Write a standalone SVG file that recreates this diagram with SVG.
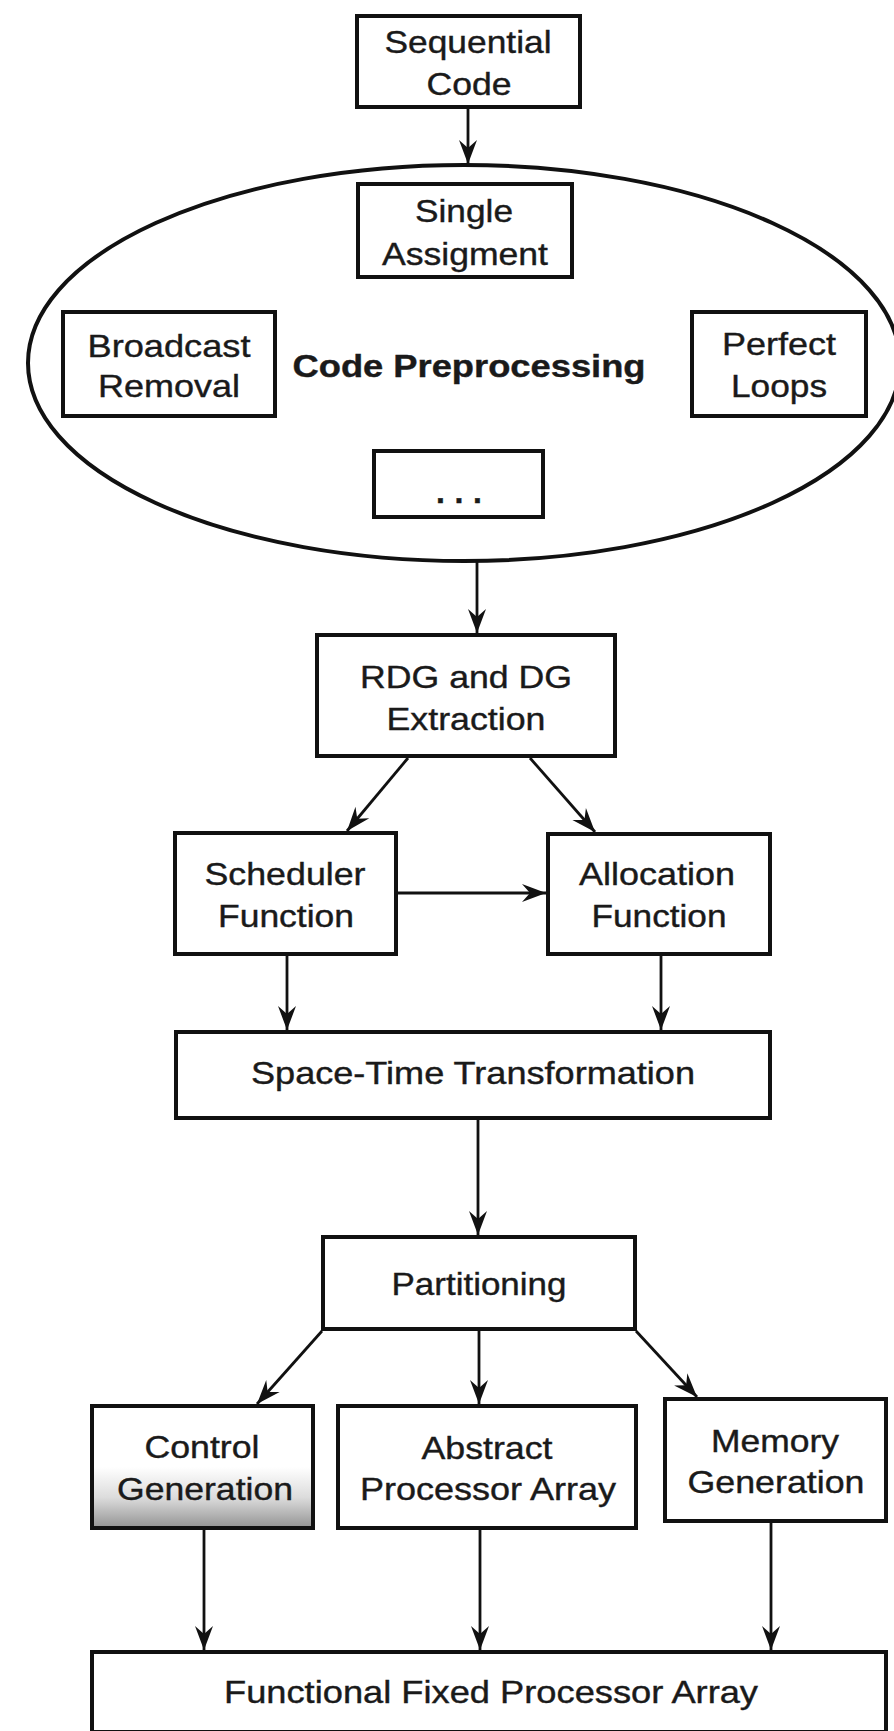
<svg xmlns="http://www.w3.org/2000/svg" width="894" height="1731" viewBox="0 0 894 1731">
  <style>
    .box { fill: #ffffff; stroke: #111111; stroke-width: 4; }
    .shade { fill: url(#shadeGrad); stroke: #111111; stroke-width: 4; }
    .oval { fill: none; stroke: #111111; stroke-width: 4; }
    .lbl { font-family: "Liberation Sans", Arial, sans-serif; font-size: 32px; fill: #1a1a1a; stroke: #1a1a1a; stroke-width: 0.4; text-anchor: middle; }
    .bold { font-weight: bold; }
    .edge { fill: none; stroke: #111111; stroke-width: 2.8; marker-end: url(#arrow); }
  </style>
  <defs>
    <marker id="arrow" viewBox="-25 -10 26 20" markerWidth="26" markerHeight="20" refX="0" refY="0" orient="auto" markerUnits="userSpaceOnUse">
      <path d="M0,0 L-24,-9 L-16,0 L-24,9 Z" fill="#111111"/>
    </marker>
    <linearGradient id="shadeGrad" x1="0" y1="0" x2="0" y2="1">
      <stop offset="0" stop-color="#ffffff"/>
      <stop offset="0.5" stop-color="#ffffff"/>
      <stop offset="0.75" stop-color="#dcdcdc"/>
      <stop offset="1" stop-color="#939393"/>
    </linearGradient>
  </defs>

  <rect x="0" y="0" width="894" height="1731" fill="#ffffff"/>

  <!-- code preprocessing stage: an ellipse holding its sub-steps -->
  <g id="code-preprocessing">
    <ellipse class="oval" cx="464" cy="363" rx="436" ry="198"/>
    <text class="lbl bold" x="469" y="377" textLength="353" lengthAdjust="spacingAndGlyphs">Code Preprocessing</text>
  </g>

  <g id="sequential-code">
    <rect class="box" x="357" y="16" width="223" height="91"/>
    <text class="lbl" x="468" y="53" textLength="167" lengthAdjust="spacingAndGlyphs">Sequential</text>
    <text class="lbl" x="469" y="95" textLength="85" lengthAdjust="spacingAndGlyphs">Code</text>
  </g>

  <g id="single-assignment">
    <rect class="box" x="358" y="184" width="214" height="93"/>
    <text class="lbl" x="464" y="222" textLength="98" lengthAdjust="spacingAndGlyphs">Single</text>
    <text class="lbl" x="465" y="265" textLength="166" lengthAdjust="spacingAndGlyphs">Assigment</text>
  </g>

  <g id="broadcast-removal">
    <rect class="box" x="63" y="312" width="212" height="104"/>
    <text class="lbl" x="169" y="357" textLength="163" lengthAdjust="spacingAndGlyphs">Broadcast</text>
    <text class="lbl" x="169" y="397" textLength="142" lengthAdjust="spacingAndGlyphs">Removal</text>
  </g>

  <g id="perfect-loops">
    <rect class="box" x="692" y="312" width="174" height="104"/>
    <text class="lbl" x="779" y="355" textLength="114" lengthAdjust="spacingAndGlyphs">Perfect</text>
    <text class="lbl" x="779" y="397" textLength="96" lengthAdjust="spacingAndGlyphs">Loops</text>
  </g>

  <g id="more-steps">
    <rect class="box" x="374" y="451" width="169" height="66"/>
    <text class="lbl bold" x="459" y="503" textLength="46" lengthAdjust="spacing">...</text>
  </g>

  <g id="rdg-dg-extraction">
    <rect class="box" x="317" y="635" width="298" height="121"/>
    <text class="lbl" x="466" y="688" textLength="212" lengthAdjust="spacingAndGlyphs">RDG and DG</text>
    <text class="lbl" x="466" y="730" textLength="159" lengthAdjust="spacingAndGlyphs">Extraction</text>
  </g>

  <g id="scheduler-function">
    <rect class="box" x="175" y="833" width="221" height="121"/>
    <text class="lbl" x="285" y="885" textLength="161" lengthAdjust="spacingAndGlyphs">Scheduler</text>
    <text class="lbl" x="286" y="927" textLength="136" lengthAdjust="spacingAndGlyphs">Function</text>
  </g>

  <g id="allocation-function">
    <rect class="box" x="548" y="834" width="222" height="120"/>
    <text class="lbl" x="657" y="885" textLength="156" lengthAdjust="spacingAndGlyphs">Allocation</text>
    <text class="lbl" x="659" y="927" textLength="135" lengthAdjust="spacingAndGlyphs">Function</text>
  </g>

  <g id="space-time-transformation">
    <rect class="box" x="176" y="1032" width="594" height="86"/>
    <text class="lbl" x="473" y="1084" textLength="444" lengthAdjust="spacingAndGlyphs">Space-Time Transformation</text>
  </g>

  <g id="partitioning">
    <rect class="box" x="323" y="1237" width="312" height="92"/>
    <text class="lbl" x="479" y="1295" textLength="175" lengthAdjust="spacingAndGlyphs">Partitioning</text>
  </g>

  <g id="control-generation">
    <rect class="shade" x="92" y="1406" width="221" height="122"/>
    <text class="lbl" x="202" y="1458" textLength="115" lengthAdjust="spacingAndGlyphs">Control</text>
    <text class="lbl" x="205" y="1500" textLength="176" lengthAdjust="spacingAndGlyphs">Generation</text>
  </g>

  <g id="abstract-processor-array">
    <rect class="box" x="338" y="1406" width="298" height="122"/>
    <text class="lbl" x="487" y="1459" textLength="131" lengthAdjust="spacingAndGlyphs">Abstract</text>
    <text class="lbl" x="488" y="1500" textLength="256" lengthAdjust="spacingAndGlyphs">Processor Array</text>
  </g>

  <g id="memory-generation">
    <rect class="box" x="665" y="1399" width="221" height="122"/>
    <text class="lbl" x="775" y="1452" textLength="128" lengthAdjust="spacingAndGlyphs">Memory</text>
    <text class="lbl" x="776" y="1493" textLength="177" lengthAdjust="spacingAndGlyphs">Generation</text>
  </g>

  <g id="functional-fixed-processor-array">
    <rect class="box" x="92" y="1652" width="794" height="80"/>
    <text class="lbl" x="491" y="1703" textLength="534" lengthAdjust="spacingAndGlyphs">Functional Fixed Processor Array</text>
  </g>

  <g id="connectors">
    <line class="edge" x1="468" y1="109" x2="468" y2="164"/>
    <line class="edge" x1="477" y1="562" x2="477" y2="633"/>
    <line class="edge" x1="408" y1="758" x2="347" y2="831"/>
    <line class="edge" x1="530" y1="758" x2="595" y2="832"/>
    <line class="edge" x1="398" y1="893" x2="546" y2="893"/>
    <line class="edge" x1="287" y1="956" x2="287" y2="1030"/>
    <line class="edge" x1="661" y1="956" x2="661" y2="1030"/>
    <line class="edge" x1="478" y1="1120" x2="478" y2="1235"/>
    <line class="edge" x1="322" y1="1331" x2="257" y2="1404"/>
    <line class="edge" x1="479" y1="1331" x2="479" y2="1404"/>
    <line class="edge" x1="636" y1="1331" x2="697" y2="1397"/>
    <line class="edge" x1="204" y1="1530" x2="204" y2="1650"/>
    <line class="edge" x1="480" y1="1530" x2="480" y2="1650"/>
    <line class="edge" x1="771" y1="1523" x2="771" y2="1650"/>
  </g>
</svg>
